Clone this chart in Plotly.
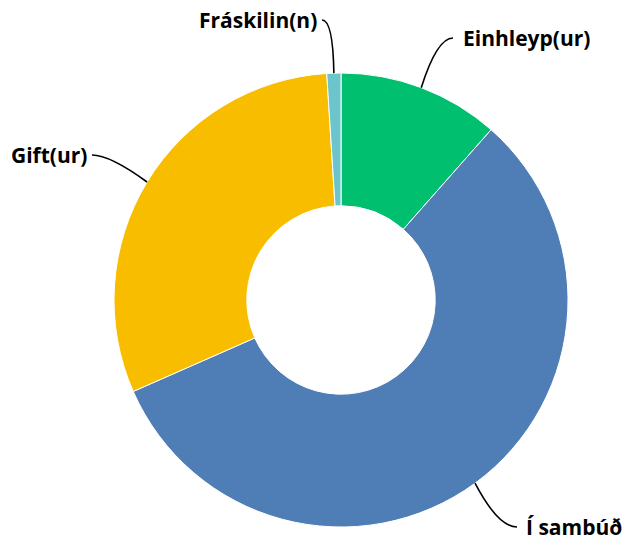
"""
Donut chart of marital status (hjúskaparstaða)
"""
import math
import plotly.graph_objects as go

# Data
labels = ["Einhleyp(ur)", "Í sambúð", "Gift(ur)", "Fráskilin(n)"]
values = [11.5, 56.9, 30.6, 1.0]
colors = ["#00bf6f", "#4f7db6", "#f9bd00", "#6cc5cb"]

W, H = 626, 541
CX, CY, R = 341, 300, 227  # donut centre / radius in pixels

# where each outside label sits (pixels), anchor side and leader-line elbow
label_pos = {
    "Einhleyp(ur)": dict(x=461, y=38, anchor="left", end=(453, 38), ctrl=(437, 38)),
    "Í sambúð": dict(x=524, y=527, anchor="left", end=(517, 527), ctrl=(498, 527)),
    "Gift(ur)": dict(x=89, y=155, anchor="right", end=(92, 155), ctrl=(110, 155)),
    "Fráskilin(n)": dict(x=319, y=20, anchor="right", end=(322, 20), ctrl=(333, 20)),
}


def px2paper(x, y):
    return x / W, 1 - y / H


fig = go.Figure(go.Pie(
    labels=labels,
    values=values,
    marker=dict(colors=colors, line=dict(color="white", width=1)),
    hole=0.415,
    sort=False,
    direction="clockwise",
    rotation=0,
    textinfo="none",
    hoverinfo="label+percent",
    domain=dict(x=[(CX - R) / W, (CX + R) / W],
                y=[(H - CY - R) / H, (H - CY + R) / H]),
))

# leader lines from the middle of each slice to its label
total = sum(values)
cum = 0
shapes = []
annotations = []
for lab, val in zip(labels, values):
    mid = (cum + val / 2) / total * 2 * math.pi
    cum += val
    sx = CX + R * math.sin(mid)
    sy = CY - R * math.cos(mid)
    p = label_pos[lab]
    x0, y0 = px2paper(sx, sy)
    cx, cy = px2paper(*p["ctrl"])
    x1, y1 = px2paper(*p["end"])
    shapes.append(dict(
        type="path", xref="paper", yref="paper",
        path=f"M {x0},{y0} Q {cx},{cy} {x1},{y1}",
        line=dict(color="black", width=1.6),
    ))
    ax, ay = px2paper(p["x"], p["y"])
    annotations.append(dict(
        x=ax, y=ay, xref="paper", yref="paper", text=lab,
        showarrow=False, xanchor=p["anchor"], yanchor="middle",
        font=dict(family="Open Sans", size=21, color="black", weight="bold"),
    ))

fig.update_layout(
    width=W, height=H,
    margin=dict(l=0, r=0, t=0, b=0),
    showlegend=False,
    paper_bgcolor="white",
    plot_bgcolor="white",
    shapes=shapes,
    annotations=annotations,
)

# drop the browser's default body margin so the figure fills the window
fig.write_html("out.html", config={"displayModeBar": False},
               post_script="document.body.style.margin='0';")
